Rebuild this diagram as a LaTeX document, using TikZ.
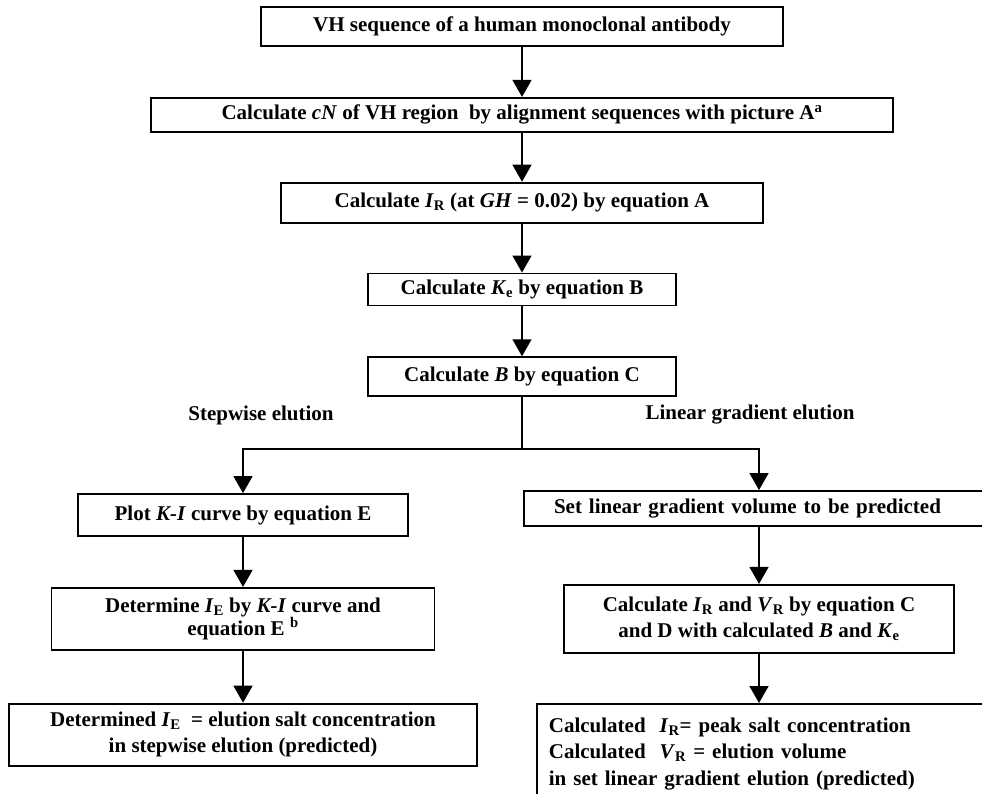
\documentclass[tikz,border=0pt]{standalone}
\usepackage{fontspec}
\setmainfont{Liberation Serif}
\usetikzlibrary{positioning, arrows.meta}

\begin{document}
\begin{tikzpicture}[x=1pt, y=1pt, line width=1.5pt, >={Triangle[width=19pt,length=17pt]}]
    % Define block styles
    \tikzstyle{block} = [rectangle, draw, line width=1.8pt, align=center, inner sep=0pt, font={\fontsize{21}{26}\selectfont\bfseries}]
    \tikzstyle{branchtext} = [font={\fontsize{21}{26}\selectfont\bfseries}]

    \useasboundingbox (0,0) rectangle (982,-793);

    % Place main nodes
    \node [block, minimum width=522, minimum height=39] (vhseq) at (522,-26.5) {VH sequence of a human monoclonal antibody};
    \node [block, below=50pt of vhseq, minimum width=742, minimum height=34] (cncalc) {Calculate \textit{cN} of VH region~ by alignment sequences with picture A\textsuperscript{a}};
    \node [block, below=49pt of cncalc, minimum width=482, minimum height=40] (ircalc) {Calculate \textit{I}\textsubscript{R} (at \textit{GH} = 0.02) by equation A};
    \node [block, below=49pt of ircalc, minimum width=308, minimum height=32] (kecalc) {Calculate \textit{K}\textsubscript{e} by equation B};
    \node [block, below=50pt of kecalc, minimum width=308, minimum height=39] (bcalc) {Calculate \textit{B} by equation C};
    \coordinate [below=52pt of bcalc] (split);

    % Branch labels
    \node [branchtext] (stepwise) at (261,-415) {Stepwise elution};
    \node [branchtext] (lineargrad) at (750,-415) {Linear gradient elution};

    % Stepwise branch
    \node [block, minimum width=330, minimum height=42] (kiplot) at (243,-515) {Plot \textit{K-I} curve by equation E};
    \node [block, below=50pt of kiplot, minimum width=383, minimum height=62, font={\fontsize{21}{23}\selectfont\bfseries}] (iedet) {Determine \textit{I}\textsubscript{E} by \textit{K-I} curve and\\equation E \textsuperscript{b}};
    \node [block, below=52pt of iedet, minimum width=468, minimum height=62] (iestep) {Determined \textit{I}\textsubscript{E}~ = elution salt concentration\\in stepwise elution (predicted)};

    % Linear gradient branch
    \node [block, minimum height=35, text width=410, align=left, inner xsep=30pt] (setgrad) at (759,-508.5) {Set linear gradient volume to be predicted};
    \node [block, below=57pt of setgrad, minimum width=390, minimum height=68] (irvrcalc) {Calculate \textit{I}\textsubscript{R} and \textit{V}\textsubscript{R} by equation C\\and D with calculated \textit{B} and \textit{K}\textsubscript{e}};
    \node [block, anchor=north west, text width=440, align=left, inner xsep=12pt, inner ysep=6pt, minimum height=100, font={\fontsize{21}{26.5}\selectfont\bfseries}] (irvrpeak) at (536,-703) {Calculated~ \textit{I}\textsubscript{R}= peak salt concentration\\Calculated~ \textit{V}\textsubscript{R} = elution volume\\in set linear gradient elution (predicted)};

    % Draw connections as arrows
    \draw [->] (vhseq) -- (cncalc);
    \draw [->] (cncalc) -- (ircalc);
    \draw [->] (ircalc) -- (kecalc);
    \draw [->] (kecalc) -- (bcalc);
    \draw (bcalc) -- (split);
    \draw [->] (split) -| (kiplot.north);
    \draw [->] (split) -| (setgrad.north);

    % Draw connections within branches
    \draw [->] (kiplot) -- (iedet);
    \draw [->] (iedet) -- (iestep);
    \draw [->] (setgrad) -- (irvrcalc);
    \draw [->] (irvrcalc) -- (irvrcalc |- irvrpeak.north);

\end{tikzpicture}
\end{document}
